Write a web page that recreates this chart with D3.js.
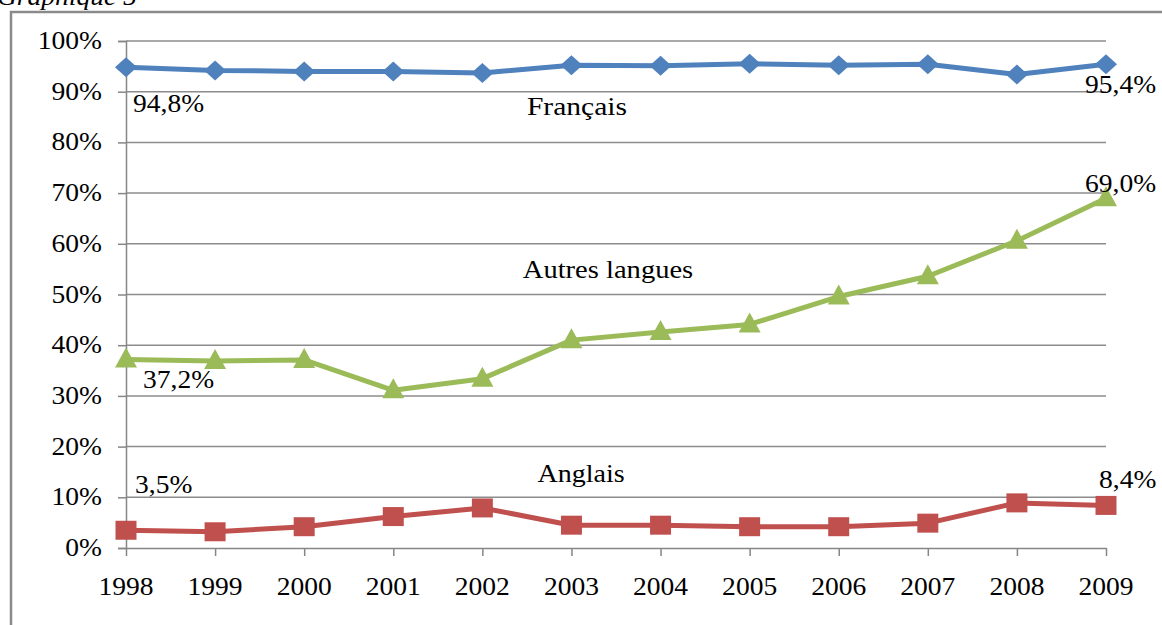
<!DOCTYPE html>
<html><head><meta charset="utf-8">
<script src="https://cdn.jsdelivr.net/npm/d3@7"></script>
<style>body{margin:0;background:#fff}svg{display:block}text{font-family:"Liberation Serif","Times New Roman",serif;fill:#000}</style>
</head><body><svg id="c" width="1162" height="625"></svg>
<script>
const years = ["1998","1999","2000","2001","2002","2003","2004","2005","2006","2007","2008","2009"];
const francais = [94.8,94.2,94.0,94.0,93.7,95.2,95.1,95.5,95.2,95.4,93.4,95.4];
const autres = [37.2,36.9,37.1,31.1,33.4,41.0,42.6,44.1,49.6,53.6,60.6,69.0];
const anglais = [3.5,3.2,4.2,6.2,7.9,4.5,4.5,4.2,4.2,4.9,8.9,8.4];
const yTicks = [0,10,20,30,40,50,60,70,80,90,100];
const seriesNames = ["Français","Autres langues","Anglais"];
const valueLabels = [["94,8%","95,4%"],["37,2%","69,0%"],["3,5%","8,4%"]];

const svg = d3.select("#c");
const x = d3.scalePoint().domain(years).range([126,1106]);
const y = d3.scaleLinear().domain([0,100]).range([548,41]);
const SX = 1.08, FS = 25.5;
function txt(str, tx, ty, anchor, opts) {
  opts = opts || {};
  const g = svg.append("g").attr("transform", `translate(${tx},${ty}) scale(${opts.sx||SX},1)`);
  const t = g.append("text").attr("x",0).attr("y",0).attr("text-anchor",anchor||"start")
    .style("font-size",(opts.fs||FS)+"px").text(str);
  if (opts.italic) t.style("font-style","italic");
  return t;
}

// frame
svg.append("path").attr("d","M11,625 L11,12 L1162,12").attr("fill","none").attr("stroke","#8a8a8a").attr("stroke-width",2.5);
txt("Graphique 5", -3, 5, "start", {italic:true});

// gridlines
svg.append("g").selectAll("line").data(yTicks.slice(1)).join("line")
  .attr("x1",126).attr("x2",1106).attr("y1",d=>y(d)).attr("y2",d=>y(d))
  .attr("stroke","#8c8c8c").attr("stroke-width",1.5);

// y axis
const yAxis = svg.append("g").attr("transform","translate(126,0)")
  .call(d3.axisLeft(y).tickValues(yTicks).tickSize(8).tickFormat(""));
yAxis.selectAll("line,path").attr("stroke","#868686").attr("stroke-width",1.5);
yTicks.forEach(v => txt(v+"%", 102, y(v)+8, "end"));

// x axis
const xAxis = svg.append("g").attr("transform","translate(0,548)")
  .call(d3.axisBottom(x).tickSize(8).tickSizeOuter(0).tickFormat(""));
xAxis.selectAll("line,path").attr("stroke","#868686").attr("stroke-width",1.5);
years.forEach(yr => txt(yr, x(yr), 595, "middle"));

// series
const colors = ["#4F81BD","#9BBB59","#C0504D"];
const data = [francais, autres, anglais];
const line = d3.line().x((d,i)=>x(years[i])).y(d=>y(d));
const shapes = [
  "M0,-10 L11,0 L0,10 L-11,0 Z",
  "M0,-12 L11,8 L-11,8 Z",
  "M-10.5,-9.5 L10.5,-9.5 L10.5,9.5 L-10.5,9.5 Z"
];
data.forEach((vals, si) => {
  svg.append("path").datum(vals).attr("d",line).attr("fill","none")
    .attr("stroke",colors[si]).attr("stroke-width",5).attr("stroke-linejoin","round");
  svg.append("g").selectAll("path").data(vals).join("path")
    .attr("transform",(d,i)=>`translate(${x(years[i])},${y(d)})`)
    .attr("d",shapes[si]).attr("fill",colors[si]);
});

// labels
txt(valueLabels[0][0], 133, 112, "start");
txt(valueLabels[0][1], 1085, 93, "start");
txt(valueLabels[1][0], 143, 388, "start");
txt(valueLabels[1][1], 1085, 192, "start");
txt(valueLabels[2][0], 135, 493, "start");
txt(valueLabels[2][1], 1099, 488, "start");
txt(seriesNames[0], 577, 115, "middle", {sx:1.16});
txt(seriesNames[1], 608, 278, "middle", {sx:1.12});
txt(seriesNames[2], 581, 482, "middle", {sx:1.1});
</script></body></html>
